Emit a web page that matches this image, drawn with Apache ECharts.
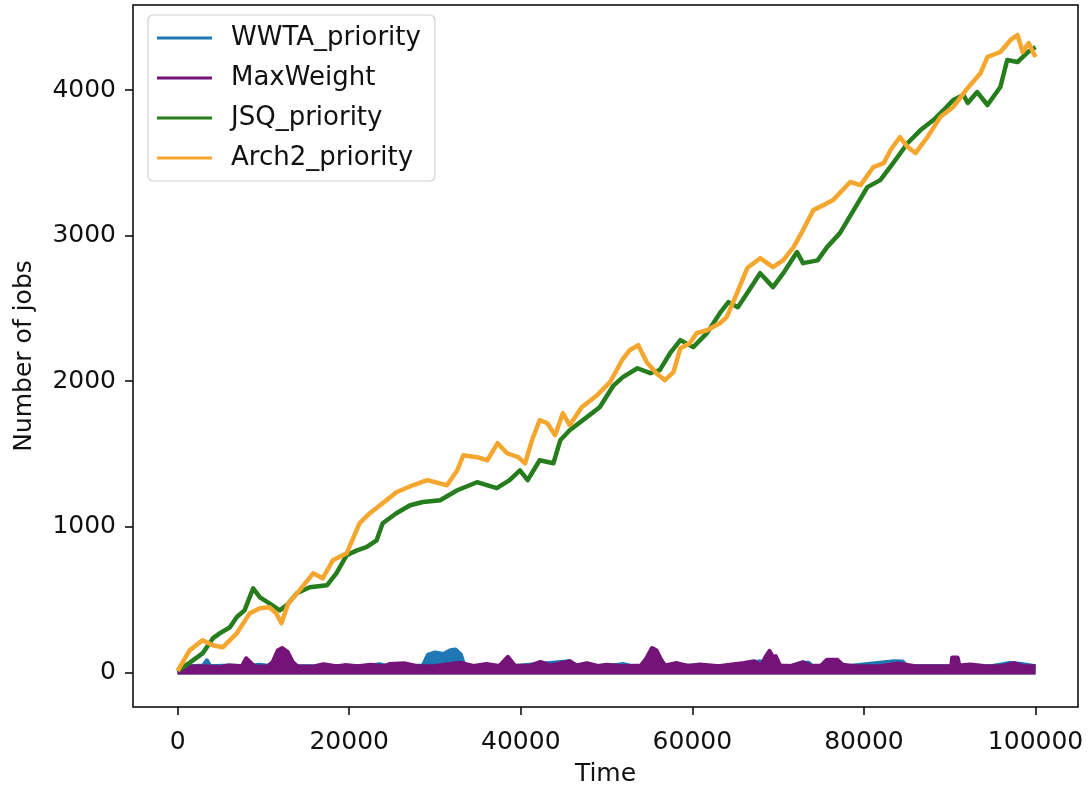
<!DOCTYPE html>
<html>
<head>
<meta charset="utf-8">
<script src="https://cdn.jsdelivr.net/npm/echarts@6/dist/echarts.min.js"></script>
<style>
html,body{margin:0;padding:0;background:#fff;}
#chart{width:1089px;height:789px;}
</style>
</head>
<body>
<div id="chart"></div>
<script>
// ---- data ----
const seriesNames = ['WWTA_priority', 'MaxWeight', 'JSQ_priority', 'Arch2_priority'];
const xTicks = [0, 20000, 40000, 60000, 80000, 100000];
const yTicks = [0, 1000, 2000, 3000, 4000];

// upper envelope of the dense noisy WWTA_priority trace
const wwta = [[0,0],[1500,40],[3000,45],[3400,80],[3800,40],[6000,45],[8000,40],[9500,50],[11000,40],[12000,60],[13000,40],[22000,40],[23500,55],[24500,40],[27000,40],[28600,45],[29200,120],[30000,135],[31000,125],[31800,150],[32400,155],[33000,120],[33400,45],[35000,40],[40000,45],[45700,75],[46500,45],[50000,40],[52000,55],[53000,40],[56000,40],[60000,45],[65000,40],[67900,75],[68500,45],[72000,40],[72800,65],[73500,65],[74000,42],[76000,40],[77000,65],[78000,40],[83500,75],[84500,72],[85000,40],[88000,40],[95000,42],[97000,62],[98500,55],[100000,40]];

// upper envelope of the dense noisy MaxWeight trace
const maxWeight = [[0,0],[1000,20],[1500,38],[3000,40],[5000,35],[6000,45],[7500,40],[8000,95],[8600,60],[9000,38],[10500,40],[11100,70],[11700,150],[12200,165],[12800,140],[13400,70],[14000,38],[16000,40],[17000,55],[18500,40],[19500,48],[21000,40],[22500,50],[24000,40],[24700,55],[26500,60],[28000,40],[30000,42],[32900,65],[34500,42],[36000,55],[37500,42],[38500,105],[39300,45],[41000,42],[42300,70],[43500,45],[45700,75],[46500,45],[47700,62],[49000,42],[50000,50],[52000,40],[54000,45],[54600,90],[55300,165],[55800,150],[56300,90],[56800,45],[58200,62],[59500,42],[60900,52],[63000,40],[66000,62],[67200,75],[68000,45],[68600,110],[69000,145],[69400,100],[69700,110],[70200,45],[71500,42],[72900,68],[73800,42],[75000,45],[75700,85],[76900,85],[77500,50],[79000,40],[82000,42],[84000,60],[86000,40],[88000,40],[90200,40],[90300,100],[90900,100],[91100,45],[92400,52],[94000,42],[96000,40],[97500,62],[98500,42],[100000,40]];

const jsq = [[0,10],[1500,70],[2900,130],[4100,233],[4900,268],[6100,310],[6900,380],[7800,426],[8800,577],[9600,515],[10700,474],[11900,426],[12700,460],[13900,543],[15400,584],[17400,598],[18500,680],[19700,804],[20900,838],[22000,860],[23200,907],[23900,1024],[25500,1093],[27100,1148],[28600,1170],[30600,1182],[32600,1251],[34900,1306],[37200,1265],[38700,1320],[39900,1388],[40800,1320],[42200,1457],[43800,1436],[44600,1594],[45700,1663],[47700,1753],[49200,1821],[50800,1970],[51900,2028],[53600,2089],[55100,2055],[56200,2076],[57400,2192],[58600,2282],[60100,2234],[61700,2330],[63200,2467],[64200,2543],[65300,2508],[66400,2605],[67900,2742],[69400,2646],[70600,2742],[72200,2887],[72900,2811],[74600,2830],[75700,2921],[77200,3017],[78800,3175],[80400,3333],[81900,3381],[83400,3498],[85100,3636],[86600,3725],[88100,3794],[89300,3863],[90400,3931],[91600,3966],[92100,3911],[93200,3986],[94400,3897],[95900,4021],[96700,4206],[97900,4192],[99100,4261],[100000,4295]];

const arch2 = [[0,10],[1400,151],[2900,220],[4100,186],[5250,172],[6900,268],[8400,405],[9600,440],[10700,447],[11500,405],[12100,337],[12900,474],[14200,563],[15800,680],[16900,646],[18100,770],[19700,818],[21200,1024],[22400,1093],[23900,1162],[25500,1237],[27400,1285],[29100,1320],[31400,1285],[32600,1388],[33300,1491],[34900,1478],[36100,1457],[37300,1574],[38400,1505],[39700,1478],[40500,1436],[41300,1594],[42200,1732],[43100,1711],[44000,1629],[44900,1780],[45700,1698],[47100,1821],[48900,1904],[50400,1993],[51800,2144],[52700,2213],[53700,2247],[54700,2128],[55900,2050],[56800,2007],[57800,2062],[58600,2227],[59700,2261],[60500,2330],[61700,2350],[63200,2398],[64000,2440],[65200,2605],[66400,2777],[67900,2845],[69400,2784],[70600,2832],[71800,2921],[72900,3038],[74100,3175],[75300,3210],[76400,3244],[78400,3368],[79600,3347],[81100,3471],[82300,3498],[83100,3588],[84200,3677],[85100,3608],[86000,3567],[87400,3677],[88900,3814],[90400,3883],[92100,4014],[93600,4117],[94400,4227],[95900,4261],[97100,4344],[97900,4378],[98500,4261],[99200,4323],[100000,4227]];

const colors = ['#1f77b4', '#741478', '#267d1d', '#f5a62e'];

// ---- chart ----
const FONT = '"DejaVu Sans", sans-serif';
const FS = 25;
const chart = echarts.init(document.getElementById('chart'), null, {renderer: 'canvas'});
const dataSets = [wwta, maxWeight, jsq, arch2];
chart.setOption({
  animation: false,
  backgroundColor: '#ffffff',
  color: colors,
  grid: {left: 133, right: 11, top: 5, bottom: 82, containLabel: false, outerBoundsMode: 'none',
         show: true, borderColor: '#000', borderWidth: 1.5, backgroundColor: 'transparent'},
  legend: {
    show: true, orient: 'vertical', left: 148, top: 15,
    padding: [10, 14, 10, 9],
    backgroundColor: 'rgba(255,255,255,0.8)', borderColor: '#d0d0d0', borderWidth: 1.2, borderRadius: 5,
    icon: 'rect', itemWidth: 55, itemHeight: 3, itemGap: 14,
    textStyle: {fontFamily: FONT, fontSize: 26, color: '#111', lineHeight: 26, padding: [0, 0, 0, 14]},
    data: seriesNames
  },
  xAxis: {
    type: 'value', min: -5200, max: 104950,
    name: 'Time', nameLocation: 'middle', nameGap: 55,
    nameTextStyle: {fontFamily: FONT, fontSize: FS, color: '#111'},
    axisLine: {show: false, onZero: false},
    axisTick: {show: true, length: 8, lineStyle: {color: '#000', width: 1.5}, customValues: xTicks},
    axisLabel: {fontFamily: FONT, fontSize: FS, color: '#111', margin: 23, customValues: xTicks, formatter: v => String(v)},
    splitLine: {show: false}
  },
  yAxis: {
    type: 'value', min: -238, max: 4584,
    name: 'Number of jobs', nameLocation: 'middle', nameGap: 96, nameRotate: 90,
    nameTextStyle: {fontFamily: FONT, fontSize: FS, color: '#111'},
    axisLine: {show: false, onZero: false},
    axisTick: {show: true, length: 8, lineStyle: {color: '#000', width: 1.5}, customValues: yTicks},
    axisLabel: {fontFamily: FONT, fontSize: FS, color: '#111', margin: 17, customValues: yTicks, formatter: v => String(v)},
    splitLine: {show: false}
  },
  series: seriesNames.map((name, i) => ({
    name: name, type: 'line', data: dataSets[i], showSymbol: false, symbol: 'none',
    lineStyle: {width: 4.5, color: colors[i], join: 'round'},
    itemStyle: {color: colors[i]},
    areaStyle: i < 2 ? {color: colors[i], opacity: 1, origin: -14} : undefined,
    z: 2 + i
  }))
});
</script>
</body>
</html>
